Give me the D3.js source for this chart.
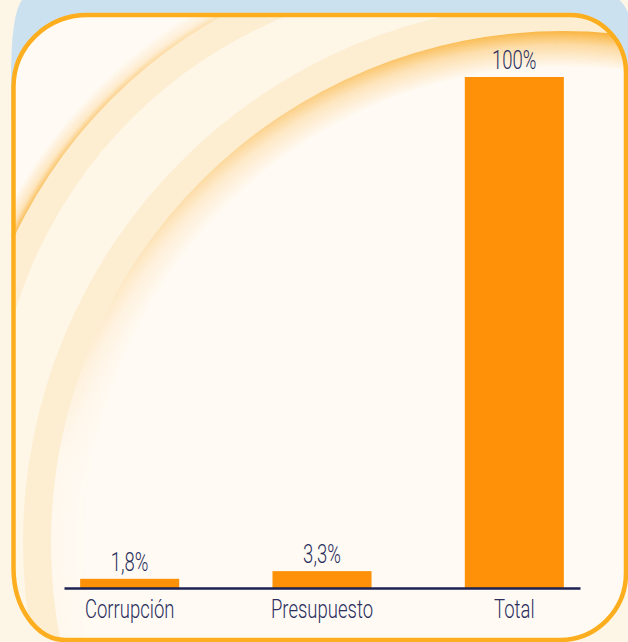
<!DOCTYPE html>
<html>
<head>
<meta charset="utf-8">
<script src="https://cdn.jsdelivr.net/npm/d3@7"></script>
<style>
  html, body { margin: 0; padding: 0; background: #fdf6e7; }
  svg { display: block; }
  text { font-family: Roboto, "DejaVu Sans Condensed", sans-serif; font-weight: 300; }
</style>
</head>
<body>
<div id="chart"></div>
<script>
// Chart data
const categories = ['Corrupción', 'Presupuesto', 'Total'];
const values = [1.8, 3.3, 100];
const yDomain = [0, 100];

const width = 628;
const height = 642;

const colors = {
  page: '#fdf6e7',
  blue: '#cce1ef',
  frame: '#fdae1e',
  inner: '#fffaf3',
  band: '#fdeed1',
  strip: '#fef6e7',
  glow: '#f9aa25',
  bar: '#fe9108',
  axis: '#1c2252',
  text: '#2a2f5e'
};

const fontSize = 25;
const squeeze = 0.74;

// Spanish number format: decimal comma
const esLocale = d3.formatLocale({ decimal: ',', thousands: '.', grouping: [3], currency: ['', ' €'] });
const fmt = v => esLocale.format('.3~r')(v) + '%';

const svg = d3.select('#chart')
  .append('svg')
  .attr('width', width)
  .attr('height', height);

const defs = svg.append('defs');

// Page background and blue backdrop
svg.append('rect').attr('width', width).attr('height', height).attr('fill', colors.page);
svg.append('path')
  .attr('d', 'M11,120 L11,80 Q11,8 24,-2 L616,-2 Q630,4 636,44 L636,120 Z')
  .attr('fill', colors.blue);

// Frame with slightly different corner radii
function framePath(l, t, r, b, tl, tr, br, bl) {
  return `M${l + tl[0]},${t} H${r - tr[0]}` +
    ` A${tr[0]},${tr[1]} 0 0 1 ${r},${t + tr[1]}` +
    ` V${b - br[1]}` +
    ` A${br[0]},${br[1]} 0 0 1 ${r - br[0]},${b}` +
    ` H${l + bl[0]}` +
    ` A${bl[0]},${bl[1]} 0 0 1 ${l},${b - bl[1]}` +
    ` V${t + tl[1]}` +
    ` A${tl[0]},${tl[1]} 0 0 1 ${l + tl[0]},${t} Z`;
}
const frameD = framePath(13.5, 15, 626, 640, [74, 72], [56, 58], [66, 67], [52, 72]);

defs.append('clipPath').attr('id', 'frame-clip')
  .append('path').attr('d', frameD);

// Decorative arcs
const arc1 = { cx: 462, cy: 450, rIn: 468, rOut: 496, glow: 18 };
const arc2 = { cx: 563, cy: 543, rIn: 512, rOut: 540, glow: 36 };

// Outer glow of the first arc
const g1 = defs.append('radialGradient')
  .attr('id', 'glow1')
  .attr('gradientUnits', 'userSpaceOnUse')
  .attr('cx', arc1.cx).attr('cy', arc1.cy)
  .attr('r', arc1.rOut + arc1.glow);
[[0, 0.8], [arc1.rOut, 0.8], [arc1.rOut + 6, 0.3], [arc1.rOut + arc1.glow, 0]].forEach(([r, o]) => {
  g1.append('stop')
    .attr('offset', r / (arc1.rOut + arc1.glow))
    .attr('stop-color', colors.glow)
    .attr('stop-opacity', o);
});

// Inner glow of the second arc
const g2 = defs.append('radialGradient')
  .attr('id', 'glow2')
  .attr('gradientUnits', 'userSpaceOnUse')
  .attr('cx', arc2.cx).attr('cy', arc2.cy)
  .attr('r', arc2.rIn);
[[0, 0], [arc2.rIn - arc2.glow, 0], [arc2.rIn - 14, 0.4], [arc2.rIn - 4, 0.75], [arc2.rIn, 0.9]].forEach(([r, o]) => {
  g2.append('stop')
    .attr('offset', r / arc2.rIn)
    .attr('stop-color', colors.glow)
    .attr('stop-opacity', o);
});

// Masks that fade the glows along the arcs
function fadeMask(id, x1, y1, x2, y2, o1, o2) {
  const grad = defs.append('linearGradient')
    .attr('id', id + '-grad')
    .attr('gradientUnits', 'userSpaceOnUse')
    .attr('x1', x1).attr('y1', y1).attr('x2', x2).attr('y2', y2);
  grad.append('stop').attr('offset', 0).attr('stop-color', '#fff').attr('stop-opacity', o1);
  grad.append('stop').attr('offset', 1).attr('stop-color', '#fff').attr('stop-opacity', o2);
  defs.append('mask')
    .attr('id', id)
    .attr('maskUnits', 'userSpaceOnUse')
    .attr('x', 0).attr('y', 0).attr('width', width).attr('height', height)
    .append('rect')
    .attr('width', width).attr('height', height)
    .attr('fill', `url(#${id}-grad)`);
}
fadeMask('mask1', 10, 280, 260, 0, 1, 0.3);
fadeMask('mask2', 600, 30, 60, 460, 1, 0.03);

const deco = svg.append('g').attr('clip-path', 'url(#frame-clip)');
deco.append('rect').attr('width', width).attr('height', height).attr('fill', colors.inner);
deco.append('circle')
  .attr('cx', arc1.cx).attr('cy', arc1.cy).attr('r', arc1.rOut + arc1.glow)
  .attr('fill', 'url(#glow1)').attr('mask', 'url(#mask1)');
deco.append('circle')
  .attr('cx', arc1.cx).attr('cy', arc1.cy).attr('r', arc1.rOut)
  .attr('fill', colors.band);
deco.append('circle')
  .attr('cx', arc1.cx).attr('cy', arc1.cy).attr('r', arc1.rIn)
  .attr('fill', colors.strip);
deco.append('circle')
  .attr('cx', arc2.cx).attr('cy', arc2.cy).attr('r', arc2.rOut)
  .attr('fill', colors.band);
deco.append('circle')
  .attr('cx', arc2.cx).attr('cy', arc2.cy).attr('r', arc2.rIn)
  .attr('fill', colors.inner);
deco.append('circle')
  .attr('cx', arc2.cx).attr('cy', arc2.cy).attr('r', arc2.rIn)
  .attr('fill', 'url(#glow2)').attr('mask', 'url(#mask2)');

svg.append('path')
  .attr('d', frameD)
  .attr('fill', 'none')
  .attr('stroke', colors.frame)
  .attr('stroke-width', 4.5);

// Scales
const x = d3.scaleBand()
  .domain(categories)
  .range([64, 580])
  .paddingInner(0.485)
  .paddingOuter(0.084);

const y = d3.scaleLinear()
  .domain(yDomain)
  .range([588, 77]);

// Bars
svg.append('g')
  .attr('class', 'bars')
  .selectAll('rect')
  .data(values)
  .enter()
  .append('rect')
  .attr('x', (d, i) => x(categories[i]))
  .attr('y', d => y(d))
  .attr('width', x.bandwidth())
  .attr('height', d => y(0) - y(d))
  .attr('fill', colors.bar);

// Value labels
svg.append('g')
  .attr('class', 'values')
  .selectAll('g')
  .data(values)
  .enter()
  .append('g')
  .attr('transform', (d, i) => `translate(${x(categories[i]) + x.bandwidth() / 2},${y(d) - 8})`)
  .append('text')
  .attr('transform', `scale(${squeeze},1)`)
  .attr('text-anchor', 'middle')
  .attr('font-size', fontSize)
  .attr('fill', colors.text)
  .text(d => fmt(d));

// X axis
const xAxis = svg.append('g')
  .attr('transform', `translate(0,${y(0)})`)
  .call(d3.axisBottom(x).tickSize(0).tickSizeOuter(0).tickPadding(12));

xAxis.select('.domain')
  .attr('stroke', colors.axis)
  .attr('stroke-width', 2.6);

xAxis.selectAll('.tick text')
  .attr('transform', `scale(${squeeze},1)`)
  .attr('font-size', fontSize)
  .attr('font-family', 'Roboto, "DejaVu Sans Condensed", sans-serif')
  .attr('font-weight', 300)
  .attr('fill', colors.text);
</script>
</body>
</html>
